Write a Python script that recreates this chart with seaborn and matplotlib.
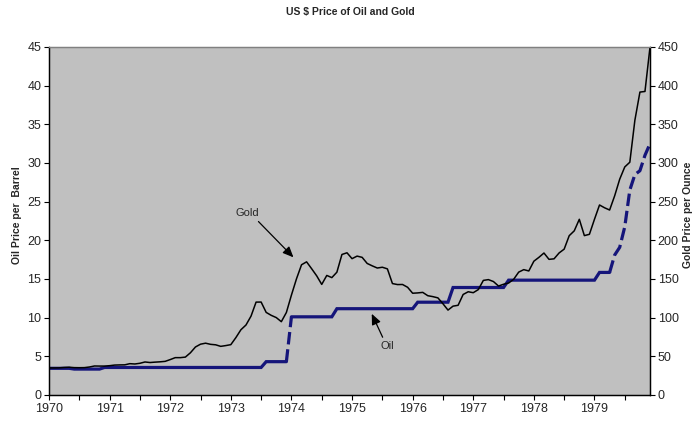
import numpy as np
import pandas as pd
import matplotlib
matplotlib.use("Agg")
import matplotlib.pyplot as plt
import seaborn as sns

# ---- data (monthly, Jan 1970 .. Dec 1979) ----
years = [str(y) for y in range(1970, 1980)]

oil_price = [
    # 1970
    3.45, 3.45, 3.45, 3.45, 3.45, 3.35, 3.35, 3.35, 3.35, 3.35, 3.35, 3.56,
    # 1971
    3.56, 3.56, 3.56, 3.56, 3.56, 3.56, 3.56, 3.56, 3.56, 3.56, 3.56, 3.56,
    # 1972
    3.56, 3.56, 3.56, 3.56, 3.56, 3.56, 3.56, 3.56, 3.56, 3.56, 3.56, 3.56,
    # 1973
    3.56, 3.56, 3.56, 3.56, 3.56, 3.56, 3.56, 4.31, 4.31, 4.31, 4.31, 4.31,
    # 1974
    10.11, 10.11, 10.11, 10.11, 10.11, 10.11, 10.11, 10.11, 10.11, 11.16, 11.16, 11.16,
    # 1975
    11.16, 11.16, 11.16, 11.16, 11.16, 11.16, 11.16, 11.16, 11.16, 11.16, 11.16, 11.16,
    # 1976
    11.16, 12.0, 12.0, 12.0, 12.0, 12.0, 12.0, 12.0, 13.9, 13.9, 13.9, 13.9,
    # 1977
    13.9, 13.9, 13.9, 13.9, 13.9, 13.9, 13.9, 14.85, 14.85, 14.85, 14.85, 14.85,
    # 1978
    14.85, 14.85, 14.85, 14.85, 14.85, 14.85, 14.85, 14.85, 14.85, 14.85, 14.85, 14.85,
    # 1979
    14.85, 15.85, 15.85, 15.85, 18.1, 19.1, 21.75, 26.5, 28.5, 29.0, 31.0, 32.5,
]

gold_price = [
    # 1970
    35.0, 35.0, 35.1, 35.6, 35.9, 35.4, 35.3, 35.4, 36.2, 37.5, 37.4, 37.4,
    # 1971
    37.9, 38.7, 38.9, 39.0, 40.5, 40.1, 41.0, 42.7, 42.0, 42.5, 42.9, 43.5,
    # 1972
    45.8, 48.3, 48.3, 49.0, 54.6, 62.1, 65.7, 67.0, 65.5, 64.9, 62.9, 63.9,
    # 1973
    65.1, 74.2, 84.4, 90.5, 102.0, 120.1, 120.2, 106.8, 103.0, 100.1, 94.8, 106.7,
    # 1974
    129.2, 150.2, 168.4, 172.2, 163.3, 154.1, 143.0, 154.6, 151.8, 158.8, 181.7, 183.9,
    # 1975
    176.3, 179.6, 178.0, 170.1, 167.0, 164.2, 165.2, 163.1, 144.1, 142.8, 142.9, 139.3,
    # 1976
    131.6, 132.0, 132.7, 128.4, 127.2, 125.6, 118.0, 109.8, 114.9, 116.0, 130.0, 133.5,
    # 1977
    132.3, 136.3, 148.2, 149.2, 146.7, 140.9, 143.2, 144.8, 149.6, 158.9, 162.1, 160.4,
    # 1978
    173.0, 178.0, 183.6, 175.4, 176.1, 183.7, 188.6, 206.0, 212.3, 227.2, 206.1, 207.8,
    # 1979
    227.2, 245.7, 242.1, 239.2, 257.6, 279.1, 294.9, 301.0, 355.2, 391.7, 392.5, 450.0,
]

# segments of the oil series drawn dashed (start, end month index)
oil_dashed_spans = [(47, 48), (111, 119)]

title = "US $ Price of Oil and Gold"
left_label = "Oil Price per  Barrel"
right_label = "Gold Price per Ounce"

# ---- build frame ----
month = np.arange(len(oil_price))
df = pd.DataFrame({"month": month, "oil": oil_price, "gold": gold_price})

sns.set_style("white")
plt.rcParams["font.family"] = ["Liberation Sans", "DejaVu Sans"]
plt.rcParams["lines.scale_dashes"] = False

fig = plt.figure(figsize=(7.0, 4.3), dpi=100)
ax = fig.add_axes([0.07, 0.0814, 0.8586, 0.8093])
ax.set_facecolor("#c0c0c0")
ax2 = ax.twinx()
ax2.set_position(ax.get_position())

oil_color = "#15157a"

# oil: split into solid / dashed pieces
bounds = sorted({0, len(month) - 1} | {b for s in oil_dashed_spans for b in s})
for a, b in zip(bounds[:-1], bounds[1:]):
    seg = df.iloc[a:b + 1]
    dashed = any(a >= s and b <= e for s, e in oil_dashed_spans)
    line = sns.lineplot(data=seg, x="month", y="oil", ax=ax, color=oil_color,
                        linewidth=2.3, legend=False)
    if dashed:
        line.get_lines()[-1].set_dashes((9, 3.5))
    line.get_lines()[-1].set_solid_joinstyle("miter")

sns.lineplot(data=df, x="month", y="gold", ax=ax2, color="black",
             linewidth=1.1, legend=False)

# axes limits / ticks
ax.set_xlim(0, len(month) - 1)
ax.set_ylim(0, 45)
ax2.set_ylim(0, 450)
ax.set_yticks(np.arange(0, 46, 5))
ax2.set_yticks(np.arange(0, 451, 50))
xt = np.arange(0, len(month), 6)
ax.set_xticks(xt)
ax.set_xticklabels([years[i // 12] if i % 12 == 0 else "" for i in xt])

for a_ in (ax, ax2):
    a_.set_xlabel("")
    a_.set_ylabel("")
    for side in ("left", "right", "bottom"):
        a_.spines[side].set_color("black")
        a_.spines[side].set_linewidth(0.9)
    a_.spines["top"].set_color("#808080")
    a_.spines["top"].set_linewidth(0.9)

ax.tick_params(axis="both", which="both", direction="out", length=3.5,
               width=0.8, color="black", labelsize=9, pad=2, left=True, bottom=True)
ax2.tick_params(axis="y", direction="out", length=3.5, width=0.8, color="black",
                labelsize=9, pad=2, right=True)

fig.text(0.5, 0.972, title, ha="center", va="center", fontsize=7.5, fontweight="bold")
fig.text(0.024, 0.5, left_label, ha="center", va="center", rotation=90,
         fontsize=7.5, fontweight="bold")
fig.text(0.983, 0.5, right_label, ha="center", va="center", rotation=90,
         fontsize=7.5, fontweight="bold")

# annotations
arrow = dict(arrowstyle="-|>,head_length=0.8,head_width=0.35", color="black",
             lw=0.9, shrinkA=0, shrinkB=0)
ax.annotate("Gold", xy=(48.4, 17.8), xytext=(39.2, 23.5), fontsize=8,
            ha="center", va="center", arrowprops=dict(arrow, relpos=(0.85, 0.0)))
ax.annotate("Oil", xy=(63.9, 10.5), xytext=(66.9, 6.4), fontsize=8,
            ha="center", va="center", arrowprops=dict(arrow, relpos=(0.3, 1.0)))

fig.savefig("out.png", dpi=100, facecolor="white")
